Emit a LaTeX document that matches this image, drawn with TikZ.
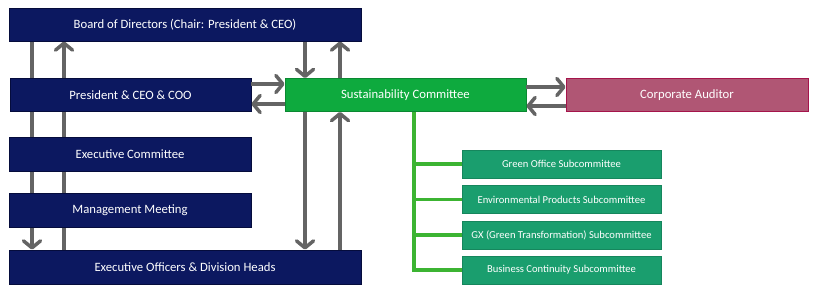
\documentclass[tikz,border=0pt]{standalone}
\usepackage{fontspec}
\setmainfont{Carlito}
\usetikzlibrary{arrows.meta}
\definecolor{navy}{RGB}{12,24,96}
\definecolor{navyedge}{RGB}{5,12,60}
\definecolor{sustgreen}{RGB}{14,170,62}
\definecolor{audfill}{RGB}{176,86,116}
\definecolor{audedge}{RGB}{165,20,75}
\definecolor{subfill}{RGB}{26,158,110}
\definecolor{branch}{RGB}{60,180,50}
\definecolor{arrgray}{RGB}{100,100,100}
\tikzset{
  box/.style={draw=navyedge, line width=0.8pt, fill=navy, text=white, font=\fontsize{12.7}{14}\selectfont, inner sep=0pt, minimum height=33pt},
  sust/.style={box, draw=sustgreen!80!black, fill=sustgreen},
  aud/.style={box, draw=audedge, fill=audfill},
  sub/.style={draw=subfill!85!black, line width=0.5pt, fill=subfill, text=white, font=\fontsize{10.6}{12}\selectfont, inner sep=0pt, minimum width=199pt, minimum height=28pt},
  arr/.style={draw=arrgray, line width=3.5pt, -{Straight Barb[length=7pt,width=17pt,line width=3.5pt,round]}},
  gline/.style={draw=branch, line width=3.5pt}
}
\begin{document}
\begin{tikzpicture}[x=1pt,y=-1pt]
\useasboundingbox (0,0) rectangle (814,294);
% x positions of vertical connectors
\coordinate (L1) at (32,0);
\coordinate (L2) at (64,0);
\coordinate (R1) at (305,0);
\coordinate (R2) at (340,0);
\coordinate (T) at (414,0);
% nodes
\path
  node[box, minimum width=352pt] (board) at (185,24.5) {Board of Directors (Chair: President \& CEO)}
  node[box, minimum width=241pt] (pres) at (130.5,95) {President \& CEO \& COO}
  node[sust, minimum width=241pt] (sc) at (405.5,95) {Sustainability Committee}
  node[aud, minimum width=242pt] (aud) at (687,95) {Corporate Auditor}
  node[box, minimum width=242pt, minimum height=34pt] (ec) at (130,154) {Executive Committee}
  node[box, minimum width=242pt, minimum height=34pt] (mm) at (130,210) {Management Meeting}
  node[box, minimum width=352pt, minimum height=34pt] (eo) at (185,267) {Executive Officers \& Division Heads}
  node[sub] (s1) at (561.5,164) {Green Office Subcommittee}
  node[sub] (s2) at (561.5,199.5) {Environmental Products Subcommittee}
  node[sub] (s3) at (561.5,235) {GX (Green Transformation) Subcommittee}
  node[sub] (s4) at (561.5,270) {Business Continuity Subcommittee};
% vertical connectors (behind boxes)
\draw[arr] (board.south -| L1) -- (eo.north -| L1);
\draw[arr] (eo.north -| L2) -- (board.south -| L2);
\draw[arr] (board.south -| R1) -- (sc.north -| R1);
\draw[arr] (sc.north -| R2) -- (board.south -| R2);
\draw[arr] (sc.south -| R1) -- (eo.north -| R1);
\draw[arr] (eo.north -| R2) -- (sc.south -| R2);
% redraw boxes on top
\path
  node[box, minimum width=352pt] at (board) {Board of Directors (Chair: President \& CEO)}
  node[box, minimum width=241pt] at (pres) {President \& CEO \& COO}
  node[box, minimum width=242pt, minimum height=34pt] at (ec) {Executive Committee}
  node[box, minimum width=242pt, minimum height=34pt] at (mm) {Management Meeting}
  node[box, minimum width=352pt, minimum height=34pt] at (eo) {Executive Officers \& Division Heads};
% horizontal connectors
\coordinate (h1) at (0,84);
\coordinate (h2) at (0,104);
\coordinate (h3) at (0,87);
\coordinate (h4) at (0,106);
\draw[arr] (pres.east |- h1) -- (sc.west |- h1);
\draw[arr] (sc.west |- h2) -- (pres.east |- h2);
\draw[arr] (sc.east |- h3) -- (aud.west |- h3);
\draw[arr] (aud.west |- h4) -- (sc.east |- h4);
% green tree
\draw[gline] (sc.south -| T) -- (s4.west -| T) -- (s4.west);
\draw[gline] (s1.west -| T) -- (s1.west);
\draw[gline] (s2.west -| T) -- (s2.west);
\draw[gline] (s3.west -| T) -- (s3.west);
\end{tikzpicture}
\end{document}
